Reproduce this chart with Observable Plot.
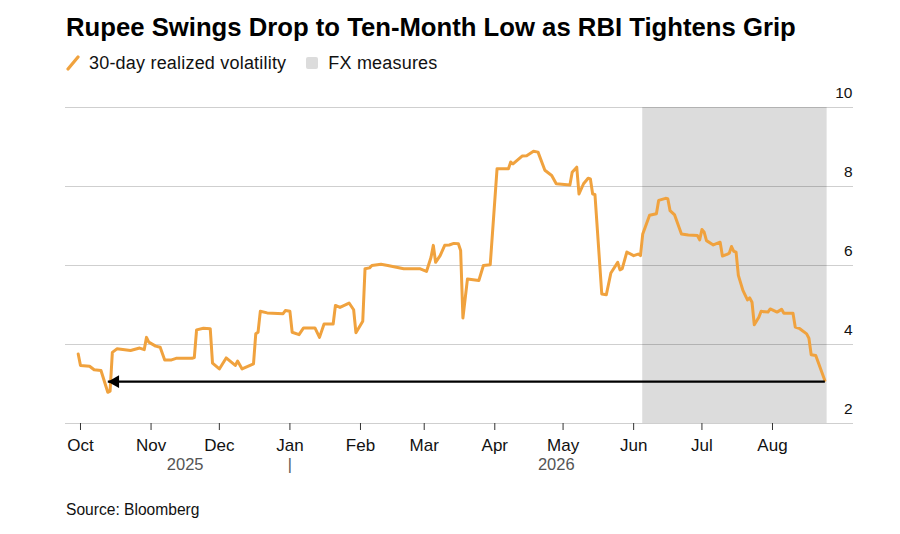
<!DOCTYPE html>
<html>
<head>
<meta charset="utf-8">
<script src="https://cdn.jsdelivr.net/npm/d3@7"></script>
<script src="https://cdn.jsdelivr.net/npm/@observablehq/plot@0.6"></script>
<style>
  html, body { margin: 0; padding: 0; background: #fff; }
  body { width: 900px; height: 534px; overflow: hidden; font-family: "Liberation Sans", Arial, sans-serif; color: #000; }
  #title { height: 44px; box-sizing: border-box; padding: 12px 0 0 66px; font-weight: bold; font-size: 25.7px; line-height: 30px; white-space: nowrap; }
  #legend { height: 36px; box-sizing: border-box; padding: 2px 0 0 66px; font-size: 18px; letter-spacing: 0.2px; line-height: 24px; display: flex; align-items: center; color: #111; }
  #legend .item { display: flex; align-items: center; margin-right: 20px; }
  #legend svg { margin-right: 9px; }
  #chart { height: 400px; }
  #source { padding: 21px 0 0 66px; font-size: 15.6px; color: #111; }
</style>
</head>
<body>
<div id="title">Rupee Swings Drop to Ten-Month Low as RBI Tightens Grip</div>
<div id="legend">
  <span class="item"><svg width="14" height="16"><line x1="2" y1="14" x2="12" y2="2" stroke="#f0a23e" stroke-width="3.2" stroke-linecap="round"/></svg>30-day realized volatility</span>
  <span class="item"><svg width="13" height="13"><rect x="0" y="0" width="12" height="12" rx="2" fill="#dcdcdc"/></svg>FX measures</span>
</div>
<div id="chart"></div>
<div id="source">Source: Bloomberg</div>
<script>
// 30-day realized volatility
const dates = [
  "2025-09-30","2025-10-01","2025-10-05","2025-10-07","2025-10-10","2025-10-13","2025-10-14","2025-10-15","2025-10-17","2025-10-23",
  "2025-10-27","2025-10-29","2025-10-30","2025-10-31","2025-11-03","2025-11-05","2025-11-07","2025-11-10","2025-11-12","2025-11-19",
  "2025-11-20","2025-11-21","2025-11-24","2025-11-27","2025-11-28","2025-12-01","2025-12-04","2025-12-08","2025-12-09","2025-12-11",
  "2025-12-16","2025-12-17","2025-12-18","2025-12-19","2025-12-22","2025-12-29","2025-12-30","2026-01-01","2026-01-02","2026-01-05",
  "2026-01-07","2026-01-12","2026-01-14","2026-01-16","2026-01-20","2026-01-21","2026-01-23","2026-01-27","2026-01-29","2026-01-30",
  "2026-02-02","2026-02-03","2026-02-05","2026-02-06","2026-02-10","2026-02-13","2026-02-20","2026-02-27","2026-03-02","2026-03-04",
  "2026-03-05","2026-03-06","2026-03-08","2026-03-10","2026-03-12","2026-03-14","2026-03-16","2026-03-17","2026-03-18","2026-03-20",
  "2026-03-25","2026-03-27","2026-03-30","2026-04-02","2026-04-07","2026-04-08","2026-04-09","2026-04-13","2026-04-15","2026-04-18",
  "2026-04-20","2026-04-23","2026-04-26","2026-04-28","2026-05-04","2026-05-05","2026-05-07","2026-05-08","2026-05-10","2026-05-12",
  "2026-05-13","2026-05-14","2026-05-15","2026-05-18","2026-05-20","2026-05-22","2026-05-25","2026-05-26","2026-05-27","2026-05-29",
  "2026-06-01","2026-06-03","2026-06-04","2026-06-05","2026-06-08","2026-06-11","2026-06-12","2026-06-15","2026-06-16","2026-06-17",
  "2026-06-19","2026-06-22","2026-06-25","2026-06-29","2026-06-30","2026-07-01","2026-07-02","2026-07-03","2026-07-06","2026-07-09",
  "2026-07-10","2026-07-12","2026-07-13","2026-07-14","2026-07-15","2026-07-16","2026-07-17","2026-07-19","2026-07-21","2026-07-22",
  "2026-07-23","2026-07-24","2026-07-26","2026-07-27","2026-07-30","2026-07-31","2026-08-03","2026-08-05","2026-08-06","2026-08-10",
  "2026-08-11","2026-08-13","2026-08-16","2026-08-17","2026-08-18","2026-08-20","2026-08-24"
];
const volatility = [
  3.76,3.47,3.45,3.36,3.34,2.79,2.82,3.80,3.89,3.85,
  3.91,3.87,4.18,4.06,3.96,3.93,3.61,3.61,3.65,3.65,
  3.67,4.37,4.41,4.40,3.53,3.38,3.66,3.47,3.58,3.38,
  3.51,4.27,4.31,4.84,4.80,4.78,4.86,4.84,4.31,4.25,
  4.42,4.42,4.18,4.52,4.52,4.99,4.94,5.05,4.88,4.30,
  4.59,5.92,5.94,6.00,6.03,6.00,5.92,5.92,5.85,6.21,
  6.51,6.08,6.25,6.51,6.52,6.56,6.55,6.38,4.67,5.66,
  5.62,6.00,6.02,8.45,8.45,8.62,8.57,8.77,8.78,8.89,
  8.87,8.41,8.28,8.07,8.04,8.36,8.49,7.81,8.07,8.21,
  8.19,7.81,7.80,5.28,5.26,5.81,6.08,5.89,5.92,6.34,
  6.25,6.29,6.25,6.80,7.27,7.31,7.65,7.70,7.69,7.39,
  7.28,6.80,6.77,6.76,6.65,6.91,6.84,6.63,6.52,6.59,
  6.24,6.28,6.31,6.48,6.36,6.34,5.75,5.37,5.13,5.18,
  5.07,4.50,4.69,4.84,4.82,4.90,4.82,4.89,4.79,4.79,
  4.44,4.40,4.27,4.16,3.74,3.72,3.09
];
const fxMeasures = [{start: "2026-06-05", end: "2026-08-25"}];
const arrowPath = [{from: "2026-08-24", to: "2025-10-13", value: 3.06}];
const yTicks = [2, 4, 6, 8, 10];
const monthTicks = ["2025-10-01","2025-11-01","2025-12-01","2026-01-01","2026-02-01","2026-03-01","2026-04-01","2026-05-01","2026-06-01","2026-07-01","2026-08-01"];
const yearLabels = [{date: "2025-11-16", label: "2025"}, {date: "2026-04-28", label: "2026"}];
const yearSeparators = ["2026-01-01"];

const parse = d3.utcParse("%Y-%m-%d");
const series = dates.map((d, i) => ({date: parse(d), value: volatility[i]}));
const bands = fxMeasures.map(b => ({x1: parse(b.start), x2: parse(b.end)}));
const arrows = arrowPath.map(a => ({x1: parse(a.from), x2: parse(a.to), y: a.value}));

const chart = Plot.plot({
  width: 900,
  height: 400,
  marginTop: 27,
  marginBottom: 57,
  marginLeft: 65,
  marginRight: 47,
  style: {fontFamily: "Liberation Sans, Arial, sans-serif", fontSize: "16px", color: "#111", background: "#fff"},
  x: {type: "utc", domain: [new Date(Date.UTC(2025, 8, 24, 10)), new Date(Date.UTC(2026, 8, 5, 14))]},
  y: {domain: [2, 10]},
  marks: [
    Plot.rect(bands, {x1: "x1", x2: "x2", fill: "#dcdcdc"}),
    Plot.gridY(yTicks, {stroke: "#000", strokeOpacity: 0.19, strokeWidth: 1}),
    Plot.axisY(yTicks, {anchor: "right", tickSize: 0, textAnchor: "end", dx: -10, dy: -14, fontSize: 15.5, fill: "#111", label: null}),
    Plot.axisX(monthTicks.map(parse), {tickSize: 7, tickPadding: 8, tickFormat: d3.utcFormat("%b"), fontSize: 17, stroke: "#333", fill: "#111", label: null}),
    Plot.text(yearLabels, {x: d => parse(d.date), text: "label", frameAnchor: "bottom", dy: 46, fontSize: 16.5, fill: "#555", letterSpacing: "2.8px"}),
    Plot.text(yearSeparators, {x: d => parse(d), text: () => "|", frameAnchor: "bottom", dy: 46, fontSize: 16, fill: "#555"}),
    Plot.line(series, {x: "date", y: "value", stroke: "#f0a23e", strokeWidth: 3, strokeLinejoin: "round", strokeLinecap: "round"}),
    Plot.link(arrows, {x1: "x1", x2: "x2", y1: "y", y2: "y", stroke: "#000", strokeWidth: 2.2}),
    Plot.dot(arrows, {x: "x2", y: "y", symbol: "triangle", r: 4.8, rotate: -90, dx: 7.5, fill: "#000", stroke: "none"})
  ]
});
document.getElementById("chart").appendChild(chart);
</script>
</body>
</html>
